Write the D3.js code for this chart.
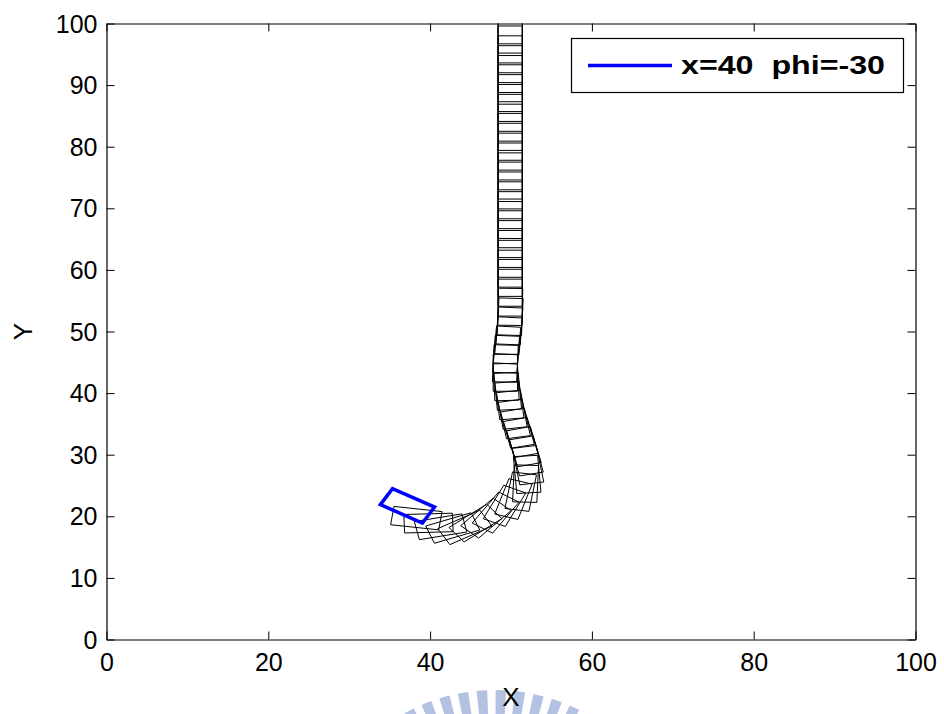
<!DOCTYPE html>
<html>
<head>
<meta charset="utf-8">
<script src="https://cdn.jsdelivr.net/npm/d3@7"></script>
<style>
  body { margin: 0; background: #fff; }
  svg { display: block; }
  text { font-family: "Liberation Sans", Arial, Helvetica, sans-serif; fill: #000; }
</style>
</head>
<body>
<svg id="chart" width="944" height="714"></svg>
<script>
// Axis ticks
const xTicks = [0, 20, 40, 60, 80, 100];
const yTicks = [0, 10, 20, 30, 40, 50, 60, 70, 80, 90, 100];
const xLabel = "X";
const yLabel = "Y";
const legendLabel = "x=40  phi=-30";

// Truck body size (data units)
const truckLength = 6;
const truckWidth = 3;

// Initial pose of the truck (centre x, centre y, heading in degrees)
const startX = [37.2];
const startY = [21.7];
const startPhi = [-30];

// Poses along the trajectory (centre x, centre y, heading in degrees)
const pathX = [
  38.3, 39.8, 41.3, 42.8, 44.3, 45.6, 46.9, 48.1, 49.2, 50.3,
  51.2, 51.8, 52.0, 52.1, 51.9, 51.6, 51.2, 50.8, 50.4, 50.1,
  49.8, 49.6, 49.4, 49.3, 49.3, 49.4, 49.5, 49.7, 49.8, 49.9,
  49.9, 49.9, 49.9, 49.9, 49.9, 49.9, 49.9, 49.9, 49.9, 49.9,
  49.9, 49.9, 49.9, 49.9, 49.9, 49.9, 49.9, 49.9, 49.9, 49.9,
  49.9, 49.9, 49.9, 49.9, 49.9, 49.9, 49.9, 49.9, 49.9, 49.9
];
const pathY = [
  19.7, 18.9, 18.3, 18.1, 18.2, 18.9, 19.7, 20.6, 21.7, 22.8,
  24.0, 25.3, 26.8, 28.3, 29.8, 31.3, 32.8, 34.3, 35.8, 37.3,
  38.8, 40.3, 41.8, 43.3, 44.8, 46.3, 47.8, 49.3, 50.9, 52.4,
  54.0, 55.5, 57.1, 58.7, 60.2, 61.8, 63.4, 65.0, 66.6, 68.1,
  69.7, 71.3, 72.9, 74.5, 76.0, 77.6, 79.2, 80.8, 82.4, 83.9,
  85.5, 87.1, 88.7, 90.3, 91.8, 93.4, 95.0, 96.6, 98.2, 99.7
];
const pathPhi = [
  -8, 2, 12, 21, 30, 39, 48, 57, 65, 73,
  81, 88, 94, 99, 102, 103, 103, 102, 100, 98,
  96, 94, 92, 90, 88, 87, 86, 86, 87, 88,
  89, 90, 90, 90, 90, 90, 90, 90, 90, 89.5,
  90, 90, 90, 90, 90, 90, 90, 90, 90, 90,
  90, 90, 90, 90, 90, 90, 90, 90, 90, 90
];

const svg = d3.select("#chart");
const plotLeft = 106.5, plotRight = 915.5, plotTop = 23.5, plotBottom = 639.5;

const x = d3.scaleLinear().domain([0, 100]).range([plotLeft, plotRight]);
const y = d3.scaleLinear().domain([0, 100]).range([plotBottom, plotTop]);

// Faint emblem arc along the bottom edge
const emblem = svg.append("g").attr("transform", "translate(495,878)");
const barArc = d3.arc().innerRadius(120).outerRadius(188);
for (let a = -33; a <= 33; a += 5.8) {
  const r = a * Math.PI / 180;
  emblem.append("path")
    .attr("d", barArc({ startAngle: r - 0.028, endAngle: r + 0.028 }))
    .attr("fill", "#b3c2e2");
}

svg.append("defs").append("clipPath").attr("id", "plotClip")
  .append("rect")
  .attr("x", plotLeft).attr("y", plotTop)
  .attr("width", plotRight - plotLeft).attr("height", plotBottom - plotTop);

// Corners of the truck outline for a pose, in data units
function corners(cx, cy, phiDeg) {
  const p = phiDeg * Math.PI / 180;
  const ux = Math.cos(p), uy = Math.sin(p);
  const vx = -uy, vy = ux;
  const hl = truckLength / 2, hw = truckWidth / 2;
  return [
    [cx + hl * ux + hw * vx, cy + hl * uy + hw * vy],
    [cx + hl * ux - hw * vx, cy + hl * uy - hw * vy],
    [cx - hl * ux - hw * vx, cy - hl * uy - hw * vy],
    [cx - hl * ux + hw * vx, cy - hl * uy + hw * vy]
  ];
}
const outline = d3.line().x(d => x(d[0])).y(d => y(d[1]));
const closed = pts => outline(pts) + "Z";

const plot = svg.append("g").attr("clip-path", "url(#plotClip)");

const poses = pathX.map((px, i) => corners(px, pathY[i], pathPhi[i]));
plot.selectAll("path.truck")
  .data(poses)
  .join("path")
  .attr("class", "truck")
  .attr("d", closed)
  .attr("fill", "none")
  .attr("stroke", "#000")
  .attr("stroke-width", 1);

plot.selectAll("path.start")
  .data(startX.map((sx, i) => corners(sx, startY[i], startPhi[i])))
  .join("path")
  .attr("class", "start")
  .attr("d", closed)
  .attr("fill", "none")
  .attr("stroke", "#0000ff")
  .attr("stroke-width", 3.5)
  .attr("stroke-linejoin", "miter");

// Axes with inward ticks on all four sides
const tickLen = 8;
function styleAxis(g) {
  g.selectAll(".domain").attr("stroke", "#000").attr("stroke-width", 1.2);
  g.selectAll(".tick line").attr("stroke", "#000").attr("stroke-width", 1);
}

const gx = svg.append("g")
  .attr("transform", `translate(0,${plotBottom})`)
  .call(d3.axisBottom(x).tickValues(xTicks).tickSizeInner(-tickLen).tickSizeOuter(0).tickPadding(0))
  .call(styleAxis);
gx.selectAll(".tick text")
  .attr("y", 31.5).attr("dy", null)
  .style("font-size", "25px")
  .style("font-family", '"Liberation Sans", Arial, sans-serif');

const gy = svg.append("g")
  .attr("transform", `translate(${plotLeft},0)`)
  .call(d3.axisLeft(y).tickValues(yTicks).tickSizeInner(-tickLen).tickSizeOuter(0).tickPadding(9))
  .call(styleAxis);
gy.selectAll(".tick text")
  .attr("dy", null).attr("y", 8.5)
  .style("font-size", "25px")
  .style("font-family", '"Liberation Sans", Arial, sans-serif');

svg.append("g")
  .attr("transform", `translate(0,${plotTop})`)
  .call(d3.axisTop(x).tickValues(xTicks).tickSizeInner(-tickLen).tickSizeOuter(0).tickFormat(""))
  .call(styleAxis);

svg.append("g")
  .attr("transform", `translate(${plotRight},0)`)
  .call(d3.axisRight(y).tickValues(yTicks).tickSizeInner(-tickLen).tickSizeOuter(0).tickFormat(""))
  .call(styleAxis);

// Axis titles
svg.append("text")
  .attr("x", (plotLeft + plotRight) / 2).attr("y", 706)
  .attr("text-anchor", "middle")
  .style("font-size", "26px")
  .text(xLabel);

svg.append("text")
  .attr("transform", `translate(31.5,${(plotTop + plotBottom) / 2}) rotate(-90)`)
  .attr("text-anchor", "middle")
  .style("font-size", "26px")
  .text(yLabel);

// Legend
const legend = svg.append("g");
legend.append("rect")
  .attr("x", 571.5).attr("y", 38.5)
  .attr("width", 332).attr("height", 54)
  .attr("fill", "#fff").attr("stroke", "#000").attr("stroke-width", 1.2);
legend.append("line")
  .attr("x1", 588).attr("x2", 672)
  .attr("y1", 65.5).attr("y2", 65.5)
  .attr("stroke", "#0000ff").attr("stroke-width", 3.5);
legend.append("text")
  .attr("x", 681).attr("y", 74)
  .style("font-size", "26px")
  .style("font-weight", "bold")
  .style("white-space", "pre")
  .attr("textLength", 204)
  .attr("lengthAdjust", "spacingAndGlyphs")
  .text(legendLabel);
</script>
</body>
</html>
